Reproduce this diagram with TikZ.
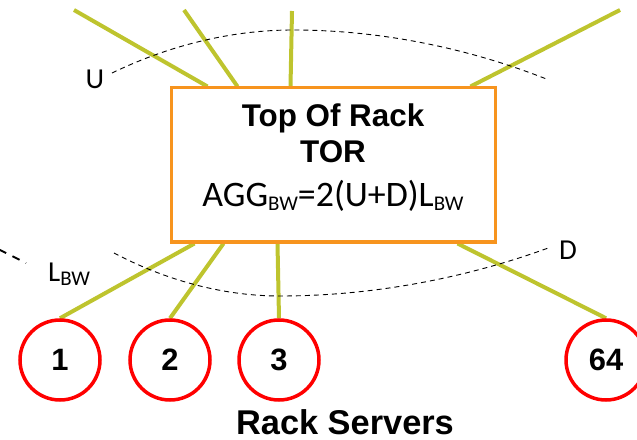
\documentclass[tikz,border=0pt]{standalone}
\usepackage{fontspec}
\setmainfont{Liberation Sans}
\newfontfamily\calfont{Carlito}
\usetikzlibrary{backgrounds}
\definecolor{linkgreen}{RGB}{190,196,46}
\definecolor{torange}{RGB}{247,148,30}
\definecolor{srvred}{RGB}{255,0,0}
% subscript "BW" in the label font
\newcommand\bwsub{\raisebox{-4bp}{\fontsize{21}{21}\selectfont BW}}
\begin{document}
\begin{tikzpicture}[x=1bp,y=-1bp,
  link/.style={draw=linkgreen,line width=4bp},
  torbox/.style={draw=torange,line width=3bp,minimum width=324bp,
    minimum height=154bp,inner sep=0pt},
  server/.style={circle,draw=srvred,line width=3.5bp,minimum size=80bp,
    inner sep=0pt,font=\bfseries\fontsize{31}{31}\selectfont},
  bound/.style={draw=black,line width=0.9bp,dash pattern=on 5bp off 4bp},
  boxtext/.style={anchor=base,inner sep=0pt,font=\bfseries\fontsize{31.5}{31.5}\selectfont},
  lbl/.style={inner sep=0pt,font=\calfont\fontsize{29}{29}\selectfont}]
\useasboundingbox (0,0) rectangle (637,440);

% top-of-rack switch
\node[torbox] (tor) at (333,165) {};
\node[boxtext] (title) at (333,127) {Top Of Rack};
\node[boxtext] (abbr) at (333,163) {TOR};
\node[anchor=base,inner sep=0pt,font=\calfont\fontsize{36}{36}\selectfont]
  (agg) at (333,207) {AGG\bwsub=2(U+D)L\bwsub};

% rack servers
\node[server] (s1) at (60,360) {\raisebox{-4bp}{1}};
\node[server] (s2) at (170,360) {\raisebox{-4bp}{2}};
\node[server] (s3) at (279,360) {\raisebox{-4bp}{3}};
\node[server] (s64) at (606,360) {\raisebox{-4bp}{64}};
\node[anchor=base,inner sep=0pt,font=\bfseries\fontsize{34.5}{34.5}\selectfont]
  (servers) at (345,434) {Rack Servers};

% uplink free ends
\coordinate (u1) at (74,10);
\coordinate (u2) at (184,10);
\coordinate (u3) at (292,11);
\coordinate (u4) at (620,10);

\begin{scope}[on background layer]
  % uplinks
  \draw[link] (tor.north west) ++(38,0) -- (u1);
  \draw[link] (tor.north west) ++(68,0) -- (u2);
  \draw[link] (tor.north west) ++(121,0) -- (u3);
  \draw[link] (tor.north west) ++(301,0) -- (u4);
  % downlinks to servers
  \draw[link] (tor.south west) ++(25,0) -- (s1.north);
  \draw[link] (tor.south west) ++(54,0) -- (s2.north);
  \draw[link] (tor.south west) ++(108,0) -- (s3.north);
  \draw[link] (tor.south west) ++(288,0) -- (s64.north);
\end{scope}

% link-group arcs
\draw[bound] (112,73) parabola bend (293,30) (549,80);
\draw[bound] (114,253) parabola bend (280,296) (551,247);
\draw[line width=2bp,dash pattern=on 8bp off 7bp] (-1,249.5) -- (26,263);

% labels
\node[lbl] (ulbl) at (95,79) {U};
\node[lbl] (dlbl) at (568,250) {D};
\node[lbl,anchor=base west] (lbw) at (48,282) {L\bwsub};
\end{tikzpicture}
\end{document}
